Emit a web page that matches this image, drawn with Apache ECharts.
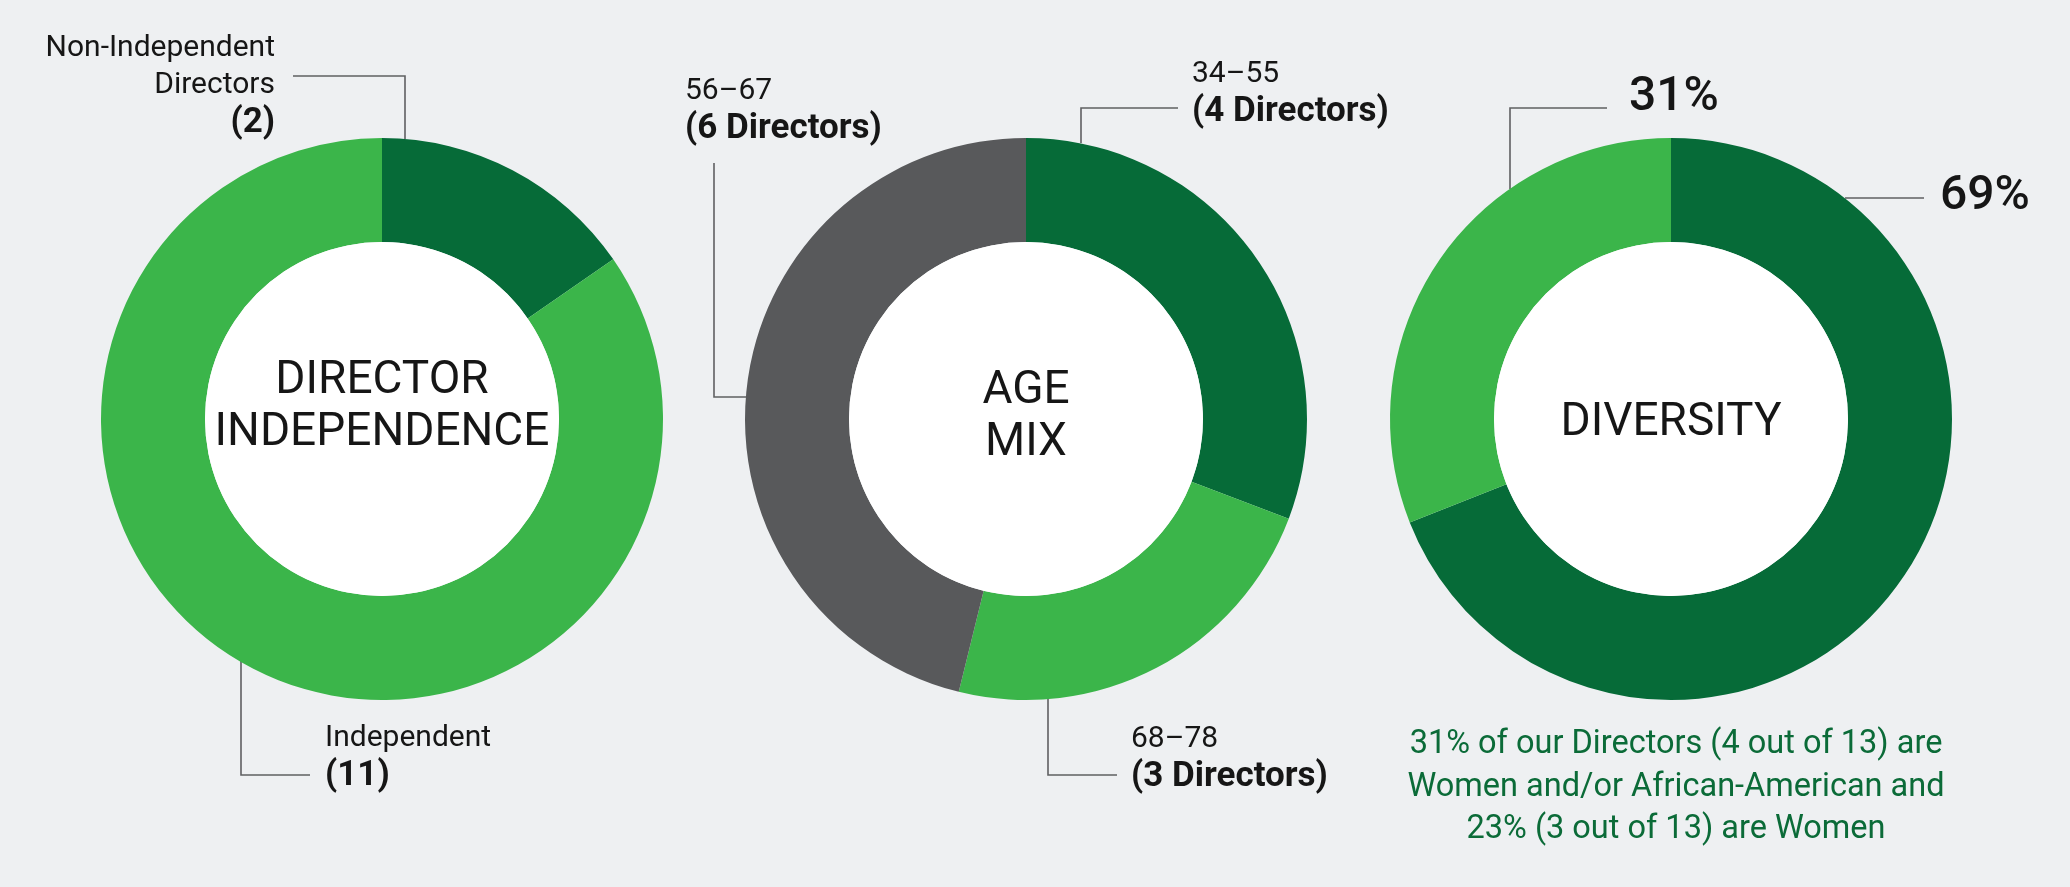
<!DOCTYPE html>
<html>
<head>
<meta charset="utf-8">
<script src="https://cdn.jsdelivr.net/npm/echarts@6/dist/echarts.min.js"></script>
<style>
  html, body { margin: 0; padding: 0; background: #eef0f2; }
  #board { width: 2070px; height: 887px; }
</style>
</head>
<body>
<div id="board"></div>
<script>
// --- data ---
const independenceNames = ['Non-Independent\nDirectors', 'Independent'];
const independenceValues = [2, 11];

const ageNames = ['34–55', '68–78', '56–67'];
const ageValues = [4, 3, 6];

const diversityNames = ['Not diverse', 'Women and/or African-American'];
const diversityValues = [69, 31];

const centerTitles = ['DIRECTOR\nINDEPENDENCE', 'AGE\nMIX', 'DIVERSITY'];
const diversityNote = '31% of our Directors (4 out of 13) are\nWomen and/or African-American and\n23% (3 out of 13) are Women';

// --- style ---
const DARK = '#066b38';
const LIGHT = '#3bb54a';
const GREY = '#58595b';
const INK = '#161616';
const fontFamily = 'Roboto';
const cy = 419;
const rIn = 177;
const rOut = 281;

const rich = {
  n: { fontSize: 30, lineHeight: 37, color: INK, fontFamily: fontFamily },
  b: { fontSize: 35, lineHeight: 39, color: INK, fontWeight: 'bold', fontFamily: fontFamily },
  nr: { fontSize: 30, lineHeight: 37, color: INK, align: 'right', fontFamily: fontFamily },
  br: { fontSize: 35, lineHeight: 39, color: INK, fontWeight: 'bold', align: 'right', fontFamily: fontFamily },
  p: { fontSize: 48, lineHeight: 56, color: INK, fontWeight: 500, fontFamily: fontFamily }
};

// label spots relative to each ring's centre: text anchor + elbow leader line
const spots = [
  [
    { text: [-107, -333], align: 'right', line: [[23, -280], [23, -343], [-89, -343]] },
    { text: [-57, 339], align: 'left', line: [[-141, 242], [-141, 356], [-72, 356]] }
  ],
  [
    { text: [166, -325], align: 'left', line: [[55, -276], [55, -311], [152, -311]] },
    { text: [105, 340], align: 'left', line: [[22, 280], [22, 356], [91, 356]] },
    { text: [-341, -308], align: 'left', line: [[-280, -22], [-312, -22], [-312, -256]] }
  ],
  [
    { text: [269, -222], align: 'left', line: [[174, -221], [214, -221], [253, -221]] },
    { text: [-42, -321], align: 'left', line: [[-161, -230], [-161, -311], [-64, -311]] }
  ]
];
const centersX = [382, 1026, 1671];
const hubShift = [-12, -2, 4];

const makeLayout = (i) => (params) => {
  const s = spots[i][params.dataIndex];
  const cx = centersX[i];
  return {
    x: cx + s.text[0],
    y: cy + s.text[1],
    align: s.align,
    verticalAlign: 'middle',
    labelLinePoints: s.line.map(p => [cx + p[0], cy + p[1]])
  };
};

const ring = (i, data, colors, formatter) => ({
  type: 'pie',
  center: [centersX[i], cy],
  radius: [rIn, rOut],
  startAngle: 90,
  clockwise: true,
  avoidLabelOverlap: false,
  silent: true,
  data: data.map((d, k) => ({ ...d, itemStyle: { color: colors[k] } })),
  label: { show: true, position: 'outside', formatter: formatter, rich: rich },
  labelLine: { show: true, smooth: false, lineStyle: { color: '#5f6062', width: 1.6 } },
  labelLayout: makeLayout(i)
});

const hub = (i) => ({
  type: 'pie',
  center: [centersX[i], cy],
  radius: [0, rIn],
  silent: true,
  data: [{ value: 1, name: centerTitles[i], itemStyle: { color: '#ffffff' } }],
  label: {
    show: true, position: 'center', formatter: '{b}',
    fontSize: 46, lineHeight: 52, color: INK, fontFamily: fontFamily
  },
  labelLine: { show: false },
  labelLayout: { dy: hubShift[i] }
});

const chart = echarts.init(document.getElementById('board'));
chart.setOption({
  animation: false,
  backgroundColor: '#eef0f2',
  textStyle: { fontFamily: fontFamily },
  title: {
    text: diversityNote,
    left: 1676,
    top: 724,
    padding: 0,
    textAlign: 'center',
    textStyle: { fontSize: 32.5, lineHeight: 42.5, color: '#0b6b38', fontWeight: 'normal', fontFamily: fontFamily }
  },
  series: [
    ring(0,
      independenceNames.map((n, k) => ({ name: n, value: independenceValues[k] })),
      [DARK, LIGHT],
      p => p.dataIndex === 0
        ? p.name.split('\n').map(t => '{nr|' + t + '}').join('\n') + '\n{br|(' + p.value + ')}'
        : '{n|' + p.name + '}\n{b|(' + p.value + ')}'),
    hub(0),
    ring(1,
      ageNames.map((n, k) => ({ name: n, value: ageValues[k] })),
      [DARK, LIGHT, GREY],
      p => '{n|' + p.name + '}\n{b|(' + p.value + ' Directors)}'),
    hub(1),
    ring(2,
      diversityNames.map((n, k) => ({ name: n, value: diversityValues[k] })),
      [DARK, LIGHT],
      p => '{p|' + p.value + '%}'),
    hub(2)
  ]
});
</script>
</body>
</html>
